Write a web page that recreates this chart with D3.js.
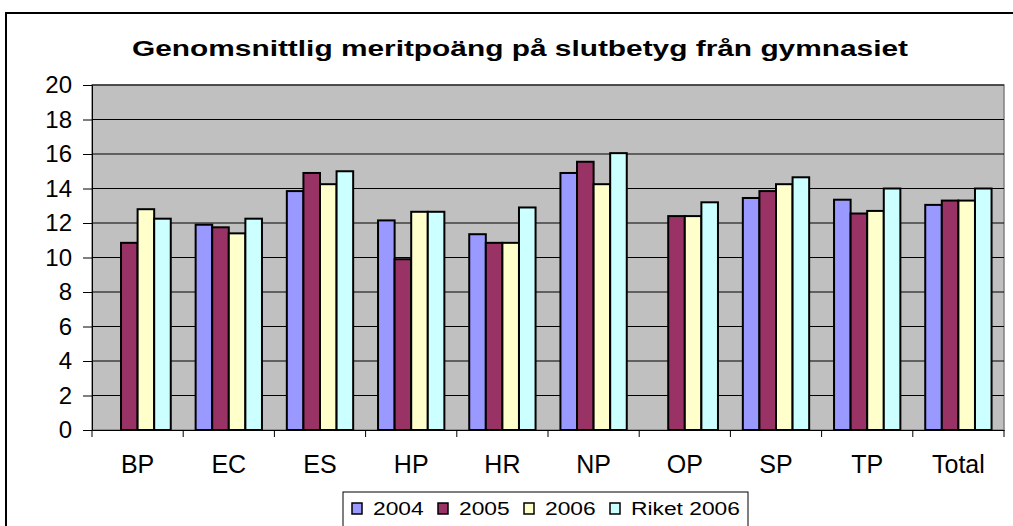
<!DOCTYPE html>
<html>
<head>
<meta charset="utf-8">
<script src="https://cdn.jsdelivr.net/npm/d3@7"></script>
<style>
  body { margin: 0; background: #fff; }
  svg { display: block; font-family: "Liberation Sans", Arial, sans-serif; }
</style>
</head>
<body>
<svg id="chart" width="1013" height="526"></svg>
<script>
const categories = ['BP', 'EC', 'ES', 'HP', 'HR', 'NP', 'OP', 'SP', 'TP', 'Total'];
const seriesNames = ['2004', '2005', '2006', 'Riket 2006'];
const values2004 = [null, 11.9, 13.85, 12.15, 11.35, 14.9, null, 13.45, 13.35, 13.05];
const values2005 = [10.85, 11.75, 14.9, 9.9, 10.85, 15.55, 12.4, 13.85, 12.55, 13.3];
const values2006 = [12.8, 11.4, 14.25, 12.65, 10.85, 14.25, 12.4, 14.25, 12.7, 13.3];
const valuesRiket = [12.25, 12.25, 15.0, 12.65, 12.9, 16.05, 13.2, 14.65, 14.0, 14.0];
const yTicks = [0, 2, 4, 6, 8, 10, 12, 14, 16, 18, 20];
const colors = ['#9999FF', '#993366', '#FFFFCC', '#CCFFFF'];

const seriesValues = [values2004, values2005, values2006, valuesRiket];

const svg = d3.select('#chart');
const plot = { left: 92, right: 1004, top: 85, bottom: 430 };
const font = '"Liberation Sans", Arial, sans-serif';

// outer frame
svg.append('rect')
  .attr('x', 6).attr('y', 13)
  .attr('width', 1030).attr('height', 540)
  .attr('fill', '#fff')
  .attr('stroke', '#000')
  .attr('stroke-width', 2);

// title, stretched like the original
svg.append('text')
  .attr('x', 520).attr('y', 56)
  .attr('text-anchor', 'middle')
  .attr('font-size', 22.5)
  .attr('font-weight', 'bold')
  .attr('textLength', 776)
  .attr('lengthAdjust', 'spacingAndGlyphs')
  .text('Genomsnittlig meritpoäng på slutbetyg från gymnasiet');

const x = d3.scaleBand()
  .domain(categories)
  .range([plot.left, plot.right]);

// Excel style: gap width 150%
const barW = x.bandwidth() / 5.5;
const xInner = d3.scaleBand()
  .domain(seriesNames)
  .range([barW * 0.75, barW * 4.75]);

const y = d3.scaleLinear().domain([0, 20]).range([plot.bottom, plot.top]);

// plot background
svg.append('rect')
  .attr('x', plot.left).attr('y', plot.top)
  .attr('width', plot.right - plot.left)
  .attr('height', plot.bottom - plot.top)
  .attr('fill', '#C0C0C0')
  .attr('stroke', '#808080')
  .attr('stroke-width', 1.5);

// gridlines
svg.append('g')
  .selectAll('line')
  .data(yTicks.filter(d => d > 0))
  .join('line')
  .attr('x1', plot.left).attr('x2', plot.right)
  .attr('y1', d => y(d)).attr('y2', d => y(d))
  .attr('stroke', '#000')
  .attr('stroke-width', 1);

// bars
const groups = svg.append('g')
  .selectAll('g')
  .data(categories)
  .join('g')
  .attr('transform', d => `translate(${x(d)},0)`);

groups.selectAll('rect')
  .data((d, i) => seriesNames.map((s, j) => ({ s, j, v: seriesValues[j][i] })).filter(e => e.v != null))
  .join('rect')
  .attr('x', d => xInner(d.s))
  .attr('width', xInner.bandwidth())
  .attr('y', d => y(d.v))
  .attr('height', d => y(0) - y(d.v))
  .attr('fill', d => colors[d.j])
  .attr('stroke', '#000')
  .attr('stroke-width', 2);

// y axis
const yAxis = svg.append('g')
  .attr('transform', `translate(${plot.left},0)`)
  .call(d3.axisLeft(y).tickValues(yTicks).tickSize(9).tickPadding(11));
yAxis.attr('font-size', 24).attr('font-family', font);
yAxis.selectAll('text').attr('fill', '#000');
yAxis.selectAll('line').attr('stroke', '#000');
yAxis.select('.domain').attr('stroke', '#000');

// x axis
const xAxis = svg.append('g')
  .attr('transform', `translate(0,${plot.bottom})`)
  .call(d3.axisBottom(x).tickSize(0).tickPadding(25));
xAxis.attr('font-size', 25).attr('font-family', font);
xAxis.selectAll('text').attr('fill', '#000');
xAxis.select('.domain').attr('stroke', '#000');
svg.append('g')
  .selectAll('line')
  .data(categories.map(c => x(c)).concat([plot.right]))
  .join('line')
  .attr('x1', d => d).attr('x2', d => d)
  .attr('y1', plot.bottom).attr('y2', plot.bottom + 7)
  .attr('stroke', '#000');

// legend
const legend = svg.append('g');
legend.append('rect')
  .attr('x', 343).attr('y', 492)
  .attr('width', 405).attr('height', 40)
  .attr('fill', '#fff')
  .attr('stroke', '#000')
  .attr('stroke-width', 1);
const legendX = [352, 438, 524, 610];
const items = legend.selectAll('g.item')
  .data(seriesNames)
  .join('g')
  .attr('class', 'item')
  .attr('transform', (d, i) => `translate(${legendX[i]},503)`);
items.append('rect')
  .attr('width', 10).attr('height', 11)
  .attr('fill', (d, i) => colors[i])
  .attr('stroke', '#000')
  .attr('stroke-width', 1.5);
items.append('text')
  .attr('transform', 'translate(21,12) scale(1.2,1)')
  .attr('font-size', 19)
  .text(d => d);
</script>
</body>
</html>
